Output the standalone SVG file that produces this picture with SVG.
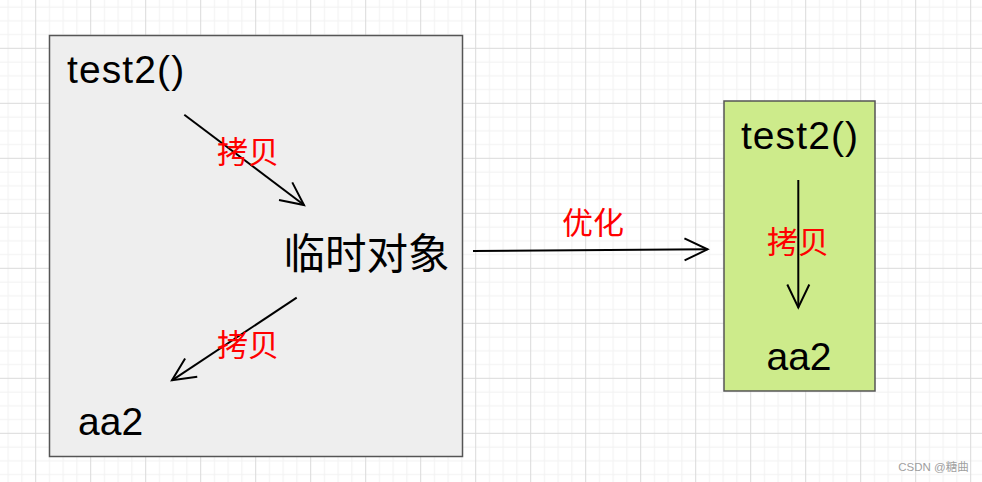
<svg xmlns="http://www.w3.org/2000/svg" width="982" height="482" viewBox="0 0 982 482">
<style>
.lat{font-family:"Liberation Sans",Arial,sans-serif;fill:#000;}
.fn{letter-spacing:1.1px;}
.cjk{font-family:"Noto Sans CJK SC","Liberation Sans",sans-serif;}
.lbl{font-family:"Noto Sans CJK SC",sans-serif;fill:#ff0000;font-size:31px;text-anchor:middle;}
.box{stroke:#555;stroke-width:1.5;}
.conn{stroke:#000;stroke-width:2;fill:none;marker-end:url(#open);}
.mn{fill:#f1f1f1;}
.mj{fill:#dadada;}
</style>
<defs>
<pattern id="grid" patternUnits="userSpaceOnUse" x="35.2" y="47.8" width="55" height="55">
<rect class="mn" x="13.75" y="0" width="1" height="55"/>
<rect class="mn" x="27.5" y="0" width="1" height="55"/>
<rect class="mn" x="41.25" y="0" width="1" height="55"/>
<rect class="mn" x="0" y="13.75" width="55" height="1"/>
<rect class="mn" x="0" y="27.5" width="55" height="1"/>
<rect class="mn" x="0" y="41.25" width="55" height="1"/>
<rect class="mj" x="0" y="0" width="1" height="55"/>
<rect class="mj" x="0" y="0" width="55" height="1"/>
</pattern>
<marker id="open" markerUnits="userSpaceOnUse" markerWidth="32" markerHeight="32" viewBox="-28 -16 32 32" refX="0" refY="0" orient="auto" overflow="visible">
<path d="M-23,-11 L0,0 L-23,11" fill="none" stroke="#000" stroke-width="2"/>
</marker>
</defs>
<rect width="982" height="482" fill="#fff"/>
<rect width="982" height="482" fill="url(#grid)"/>

<g id="left-box">
<rect class="box" x="49.5" y="35.5" width="413" height="421" fill="#eeeeee"/>
</g>
<g id="right-box">
<rect class="box" x="724" y="101" width="151" height="290" fill="#cdeb8b"/>
</g>

<g id="node-test2-left"><text class="lat fn" x="67" y="83" font-size="39">test2()</text></g>
<g id="node-temp"><text class="cjk" x="366.5" y="269" font-size="41.5" text-anchor="middle" fill="#000">临时对象</text></g>
<g id="node-aa2-left"><text class="lat" x="78" y="435" font-size="39">aa2</text></g>
<g id="node-test2-right"><text class="lat fn" x="800" y="149" font-size="39" text-anchor="middle">test2()</text></g>
<g id="node-aa2-right"><text class="lat" x="799" y="370" font-size="39" text-anchor="middle">aa2</text></g>

<g id="connectors">
<line class="conn" x1="184.3" y1="114.7" x2="304" y2="205"/>
<line class="conn" x1="296.7" y1="297.7" x2="172" y2="380.3"/>
<line class="conn" x1="473" y1="251" x2="707.5" y2="249.3"/>
<line class="conn" x1="798.3" y1="180" x2="798.3" y2="307.5"/>
</g>

<g id="labels">
<text class="lbl" x="248" y="163">拷贝</text>
<text class="lbl" x="248" y="356">拷贝</text>
<text class="lbl" x="798" y="253">拷贝</text>
<text class="lbl" x="593" y="234">优化</text>
</g>

<text x="933.5" y="471" font-family="'Liberation Sans','Noto Sans CJK SC',sans-serif" font-size="11.5" fill="#a0a0a0" text-anchor="middle">CSDN @糖曲</text>
</svg>
